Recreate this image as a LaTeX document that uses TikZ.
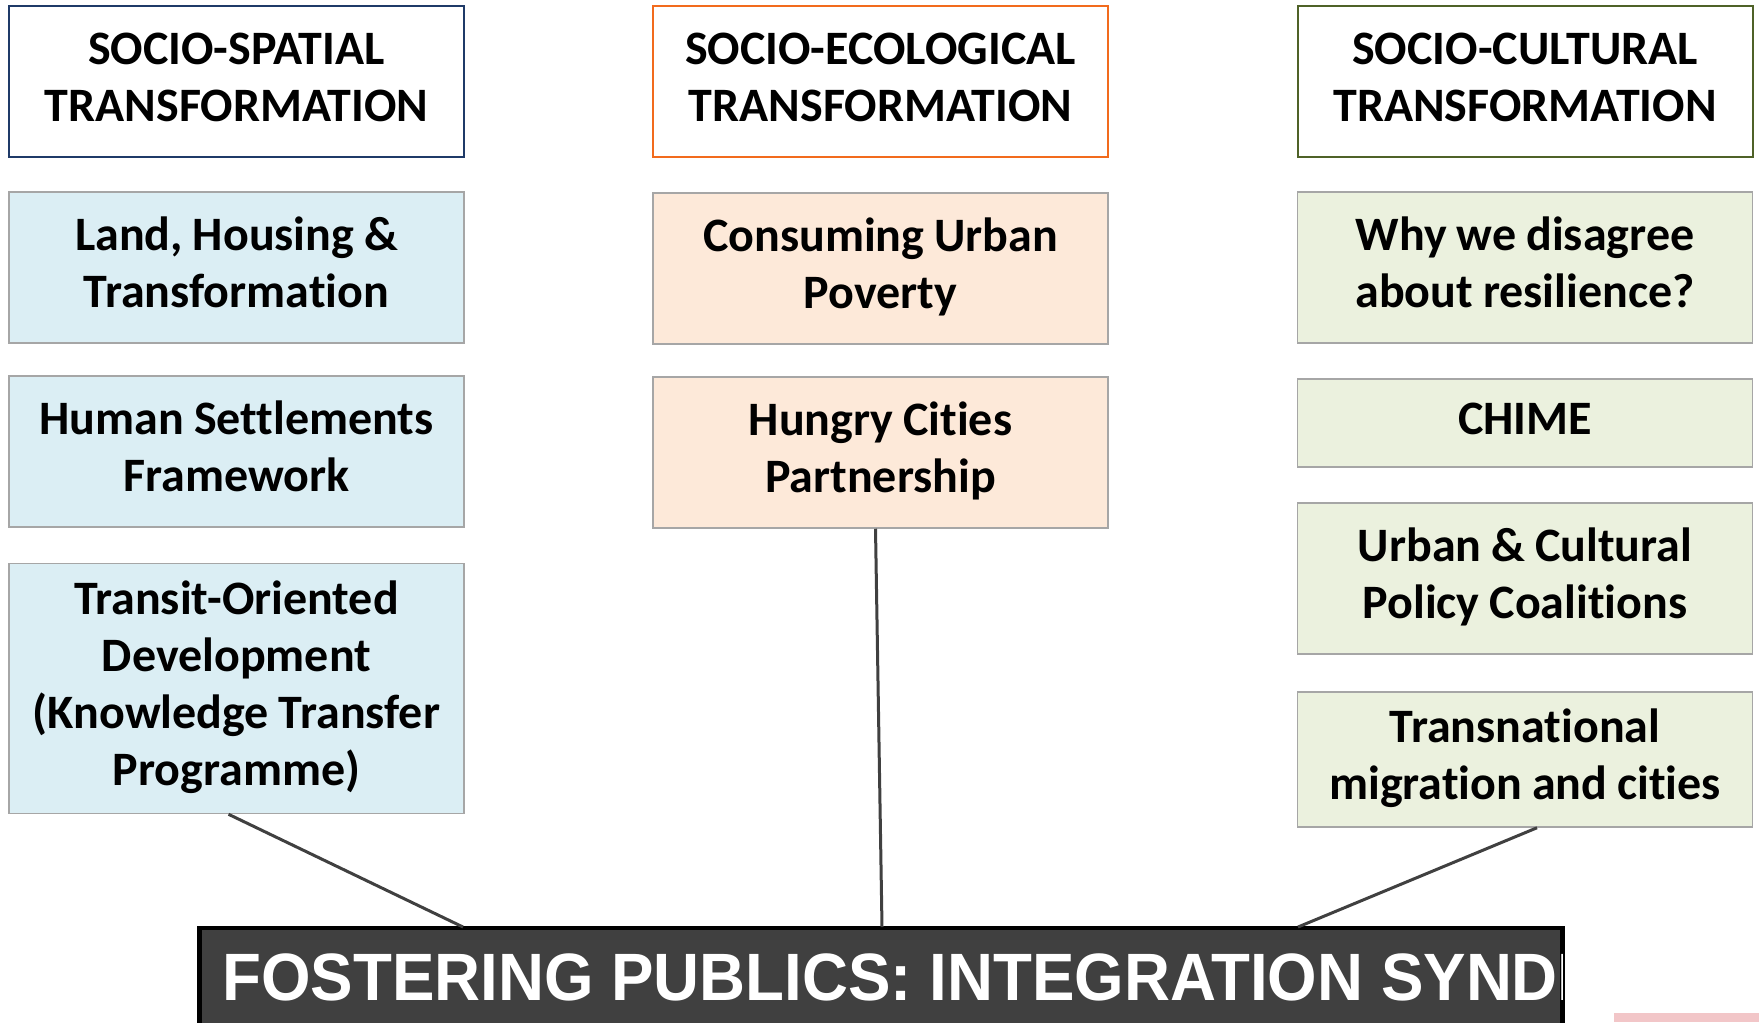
\documentclass[tikz,border=0pt]{standalone}
\usepackage{fontspec}
\setmainfont{Carlito}[Ligatures=NoCommon]
\newfontfamily\barfont{Liberation Sans}
\usepackage{tikz}
\definecolor{navyline}{HTML}{1F3A68}
\definecolor{orangeline}{HTML}{F26B1D}
\definecolor{oliveline}{HTML}{4F6228}
\definecolor{bluefill}{HTML}{DBEEF4}
\definecolor{peachfill}{HTML}{FDE9D9}
\definecolor{sagefill}{HTML}{EBF1DE}
\definecolor{boxline}{HTML}{A6A6A6}
\definecolor{darkbar}{HTML}{404040}
\definecolor{pinkstrip}{HTML}{F2C6C8}
\tikzstyle{headbox}=[rectangle,fill=white,line width=1pt,text width=227.5pt,minimum height=75.5pt,inner sep=0pt,align=center,font=\bfseries\fontsize{24}{28.5}\selectfont,execute at begin node={\spaceskip=5pt\relax\strut},execute at end node={\strut}]
\tikzstyle{headb}=[headbox,draw=navyline]
\tikzstyle{heado}=[headbox,draw=orangeline]
\tikzstyle{headg}=[headbox,draw=oliveline]
\tikzstyle{itembox}=[rectangle,draw=boxline,line width=0.75pt,text width=227.5pt,minimum height=75.5pt,inner sep=0pt,align=center,font=\bfseries\fontsize{24}{28.5}\selectfont,execute at begin node={\spaceskip=5pt\relax\strut},execute at end node={\strut}]
\tikzstyle{itemb}=[itembox,fill=bluefill]
\tikzstyle{itemo}=[itembox,fill=peachfill]
\tikzstyle{itemg}=[itembox,fill=sagefill]
\tikzstyle{barbox}=[rectangle,draw=black,fill=darkbar,line width=2.25pt,minimum width=681.5pt,minimum height=60pt,inner sep=0pt]
\tikzstyle{link}=[draw=darkbar,line width=1.5pt]

\begin{document}
\begin{tikzpicture}[x=0.5pt,y=-0.5pt]
    \useasboundingbox (0,0) rectangle (1759,1022);
    % column headers
    \node[headb] (spatial)  at (236.5,81.5)  {SOCIO-SPATIAL\\TRANSFORMATION};
    \node[heado] (ecol)     at (880.5,81.5)  {SOCIO-ECOLOGICAL\\TRANSFORMATION};
    \node[headg] (cultural) at (1525,81.5)   {SOCIO-CULTURAL\\TRANSFORMATION};

    % socio-spatial
    \node[itemb] (lht) at (236.5,267.5) {Land, Housing \&\\Transformation};
    \node[itemb] (hsf) at (236.5,451.5) {Human Settlements\\Framework};
    \node[itemb, minimum height=125pt] (tod) at (236.5,688.5) {Transit-Oriented\\Development\\(Knowledge Transfer\\Programme)};

    % socio-ecological
    \node[itemo] (cup) at (880.5,268.5) {Consuming Urban\\Poverty};
    \node[itemo] (hcp) at (880.5,452.5) {Hungry Cities\\Partnership};

    % socio-cultural
    \node[itemg] (wdr) at (1525,267.5) {Why we disagree\\about resilience?};
    \node[itemg, minimum height=44pt] (chime) at (1525,423) {CHIME};
    \node[itemg] (ucp) at (1525,578.5) {Urban \& Cultural\\Policy Coalitions};
    \node[itemg, minimum height=67.5pt] (tmc) at (1525,759.5) {Transnational\\migration and cities};

    % bottom bar
    \node[barbox] (fp) at (881,988) {};
    \begin{scope}
        \clip ([xshift=-1pt]fp.south east) rectangle ([xshift=1pt]fp.north west);
        \node[anchor=base west, inner sep=0pt, text=white, font=\barfont\bfseries\fontsize{33.5}{40}\selectfont] (fptext) at (222,1000) {\scalebox{0.95}[1]{FOSTERING PUBLICS: INTEGRATION SYNDI}};
    \end{scope}
    \fill[pinkstrip] (1614,1013) rectangle (1759,1022);

    \coordinate (fpl) at (463,927);
    \coordinate (fpm) at (882,927);
    \coordinate (fpr) at (1298,927);
    \draw[link] ([xshift=-4pt]tod.south) -- (fpl);
    \draw[link] ([xshift=-2.5pt]hcp.south) -- (fpm);
    \draw[link] ([xshift=6pt]tmc.south) -- (fpr);
\end{tikzpicture}
\end{document}
